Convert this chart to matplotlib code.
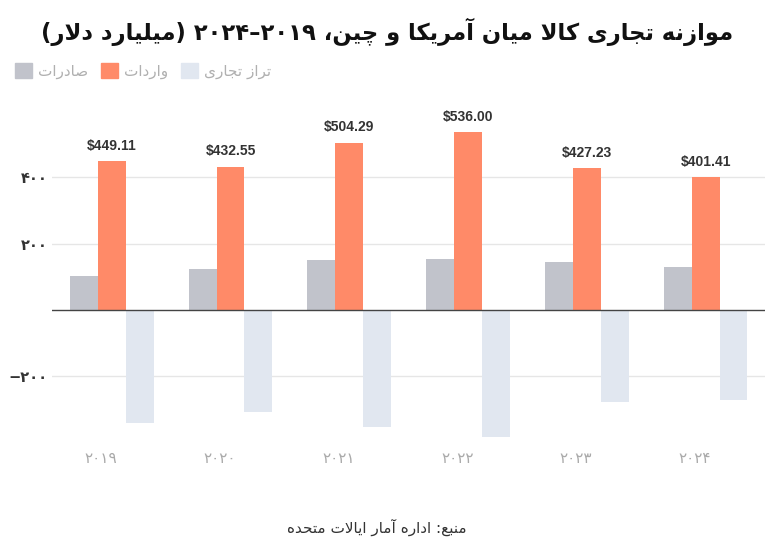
import re
import matplotlib
matplotlib.use("Agg")
import matplotlib.pyplot as plt
from matplotlib.patches import Patch

plt.rcParams['font.family'] = ['DejaVu Sans']

# data
years = [2019, 2020, 2021, 2022, 2023, 2024]
exports = [104, 123, 150, 153, 146, 129]
imports = [449.11, 432.55, 504.29, 536.00, 427.23, 401.41]
balance = [-342, -307, -352, -382, -278, -271]
yticks = [-200, 200, 400]

title = "موازنه تجاری کالا میان آمریکا و چین، ۲۰۱۹–۲۰۲۴ (میلیارد دلار)"
series_names = ["صادرات", "واردات", "تراز تجاری"]
source = "منبع: اداره آمار ایالات متحده"

# presentation forms: isolated, final, initial, medial
FORMS = {
    'آ': (0xFE81, 0xFE82), 'ا': (0xFE8D, 0xFE8E), 'د': (0xFEA9, 0xFEAA),
    'ذ': (0xFEAB, 0xFEAC), 'ر': (0xFEAD, 0xFEAE), 'ز': (0xFEAF, 0xFEB0),
    'و': (0xFEED, 0xFEEE), 'ژ': (0xFB8A, 0xFB8B), 'ة': (0xFE93, 0xFE94),
    'ب': (0xFE8F, 0xFE90, 0xFE91, 0xFE92), 'ت': (0xFE95, 0xFE96, 0xFE97, 0xFE98),
    'ث': (0xFE99, 0xFE9A, 0xFE9B, 0xFE9C), 'ج': (0xFE9D, 0xFE9E, 0xFE9F, 0xFEA0),
    'ح': (0xFEA1, 0xFEA2, 0xFEA3, 0xFEA4), 'خ': (0xFEA5, 0xFEA6, 0xFEA7, 0xFEA8),
    'س': (0xFEB1, 0xFEB2, 0xFEB3, 0xFEB4), 'ش': (0xFEB5, 0xFEB6, 0xFEB7, 0xFEB8),
    'ص': (0xFEB9, 0xFEBA, 0xFEBB, 0xFEBC), 'ض': (0xFEBD, 0xFEBE, 0xFEBF, 0xFEC0),
    'ط': (0xFEC1, 0xFEC2, 0xFEC3, 0xFEC4), 'ظ': (0xFEC5, 0xFEC6, 0xFEC7, 0xFEC8),
    'ع': (0xFEC9, 0xFECA, 0xFECB, 0xFECC), 'غ': (0xFECD, 0xFECE, 0xFECF, 0xFED0),
    'ف': (0xFED1, 0xFED2, 0xFED3, 0xFED4), 'ق': (0xFED5, 0xFED6, 0xFED7, 0xFED8),
    'ل': (0xFEDD, 0xFEDE, 0xFEDF, 0xFEE0), 'م': (0xFEE1, 0xFEE2, 0xFEE3, 0xFEE4),
    'ن': (0xFEE5, 0xFEE6, 0xFEE7, 0xFEE8), 'ه': (0xFEE9, 0xFEEA, 0xFEEB, 0xFEEC),
    'پ': (0xFB56, 0xFB57, 0xFB58, 0xFB59), 'چ': (0xFB7A, 0xFB7B, 0xFB7C, 0xFB7D),
    'ک': (0xFB8E, 0xFB8F, 0xFB90, 0xFB91), 'گ': (0xFB92, 0xFB93, 0xFB94, 0xFB95),
    'ی': (0xFBFC, 0xFBFD, 0xFBFE, 0xFBFF),
}
LAM_ALEF = {'ا': (0xFEFB, 0xFEFC), 'آ': (0xFEF5, 0xFEF6)}


def shape(s):
    out = []
    i = 0
    prev_dual = False
    while i < len(s):
        c = s[i]
        nxt = s[i + 1] if i + 1 < len(s) else ''
        if c == 'ل' and nxt in LAM_ALEF:
            f = LAM_ALEF[nxt]
            out.append(chr(f[1] if prev_dual else f[0]))
            prev_dual = False
            i += 2
            continue
        if c in FORMS:
            f = FORMS[c]
            dual = len(f) == 4
            join_next = dual and nxt in FORMS
            if prev_dual and join_next:
                out.append(chr(f[3]))
            elif prev_dual:
                out.append(chr(f[1]))
            elif join_next:
                out.append(chr(f[2]))
            else:
                out.append(chr(f[0]))
            prev_dual = dual
        else:
            out.append(c)
            prev_dual = False
        i += 1
    return ''.join(out)


def fa(s):
    toks = re.findall(r'[0-9۰-۹.$]+|.', shape(s))
    mirror = {'(': ')', ')': '('}
    return ''.join(mirror.get(t, t) for t in reversed(toks))


def fa_num(v):
    return str(v).translate(str.maketrans('0123456789-', '۰۱۲۳۴۵۶۷۸۹−'))


fig = plt.figure(figsize=(7.76, 5.56), dpi=100)
ax = fig.add_axes([0.067, 0.2038, 0.9188, 0.5966])

x = list(range(len(years)))
w = 0.235
ax.bar([i - w for i in x], exports, w, color='#c1c3cb', zorder=2)
ax.bar(x, imports, w, color='#ff8a68', zorder=2)
ax.bar([i + w for i in x], balance, w, color='#e1e7f0', zorder=2)

for i, v in zip(x, imports):
    ax.annotate(f"${v:.2f}", (i, v), xytext=(0, 6), textcoords='offset points',
                ha='center', va='bottom', fontsize=10, fontweight='bold',
                color='#333333', family=['Liberation Sans', 'DejaVu Sans'])

ax.axhline(0, color='#444444', lw=1, zorder=3)
ax.set_xlim(-0.503, 5.50)
ax.set_ylim(-400, 600)
ax.set_yticks(yticks)
ax.set_yticklabels([fa_num(t) for t in yticks], fontsize=10.5, fontweight='bold', color='#333333')
ax.set_xticks([i - 0.09 for i in x])
ax.set_xticklabels([fa_num(y) for y in years], fontsize=11, color='#aaaaaa')
ax.tick_params(length=0)
ax.tick_params(axis='y', pad=3)
ax.tick_params(axis='x', pad=6)
ax.grid(axis='y', color='#e6e6e6', lw=1, zorder=0)
for s in ax.spines.values():
    s.set_visible(False)

fig.text(0.499, 0.942, fa(title), ha='center', va='center', fontsize=16.3,
         fontweight='bold', color='#111111')

handles = [Patch(color=c) for c in ['#c1c3cb', '#ff8a68', '#e1e7f0']]
fig.legend(handles, [fa(n) for n in series_names], loc='center left',
           bbox_to_anchor=(0.001, 0.872), ncol=3, frameon=False, fontsize=11,
           handlelength=1.15, handleheight=1.15, handletextpad=0.4,
           columnspacing=0.8, labelcolor='#b0b0b0')

fig.text(0.486, 0.052, fa(source), ha='center', va='center', fontsize=11, color='#333333')

fig.savefig('out.png', dpi=100)
